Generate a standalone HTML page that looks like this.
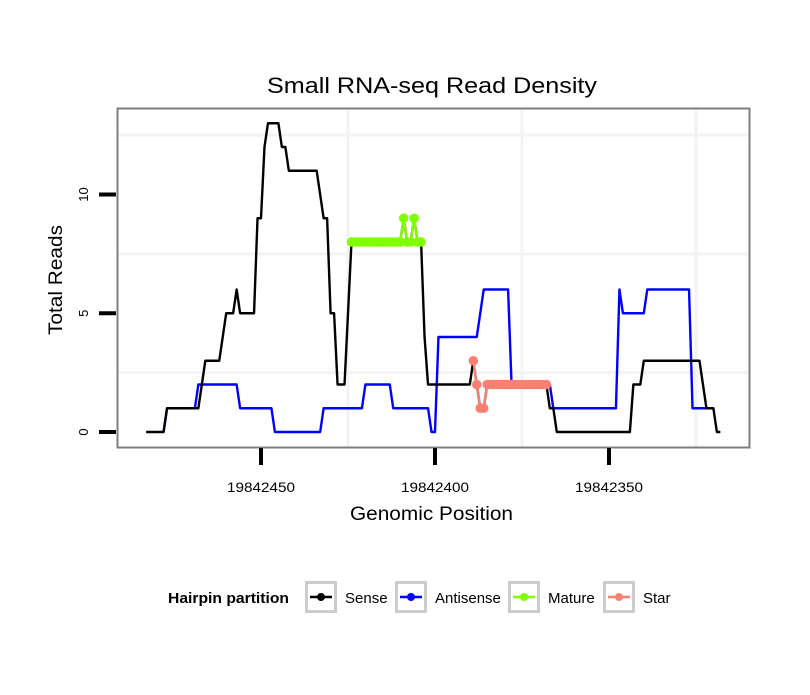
<!DOCTYPE html>
<html><head><meta charset="utf-8"><style>
body{margin:0;background:#fff}
svg text{font-family:"Liberation Sans",sans-serif}
</style></head><body>
<svg id="chart" width="810" height="690" xmlns="http://www.w3.org/2000/svg">
<rect width="810" height="690" fill="#fff"/>
<text x="267" y="93" font-size="22" textLength="330" lengthAdjust="spacingAndGlyphs">Small RNA-seq Read Density</text>
<g id="grid"></g>
<g id="series"></g>
<rect x="117.5" y="108.5" width="632" height="339" fill="none" stroke="#7f7f7f" stroke-width="2"/>
<g id="axes"></g>
<text x="350" y="520" font-size="19" textLength="163" lengthAdjust="spacingAndGlyphs">Genomic Position</text>
<text transform="translate(62,335) rotate(-90)" font-size="19" textLength="110" lengthAdjust="spacingAndGlyphs">Total Reads</text>
<g>
<text x="168" y="603" font-size="15" font-weight="bold" textLength="121" lengthAdjust="spacingAndGlyphs">Hairpin partition</text>
<g id="legend"></g>
</g>
</svg>
<script>
const senseX=[19842483,19842478,19842477,19842468,19842466,19842462,19842460,19842458,19842457,19842456,19842452,19842451,19842450,19842449,19842448,19842445,19842444,19842443,19842442,19842434,19842432,19842431,19842430,19842429,19842428,19842426,19842424,19842410,19842409,19842408,19842407,19842406,19842405,19842404,19842403,19842402,19842390,19842389,19842388,19842387,19842386,19842385,19842368,19842367,19842366,19842365,19842344,19842343,19842341,19842340,19842324,19842322,19842320,19842319,19842318];
const senseY=[0,0,1,1,3,3,5,5,6,5,5,9,9,12,13,13,12,12,11,11,9,9,5,5,2,2,8,8,9,8,8,9,8,8,4,2,2,3,2,1,1,2,2,1,1,0,0,2,2,3,3,1,1,0,0];
const antiX=[19842478,19842477,19842469,19842468,19842457,19842456,19842447,19842446,19842433,19842432,19842421,19842420,19842413,19842412,19842402,19842401,19842400,19842399,19842388,19842386,19842379,19842378,19842367,19842366,19842348,19842347,19842346,19842340,19842339,19842327,19842326,19842322];
const antiY=[0,1,1,2,2,1,1,0,0,1,1,2,2,1,1,0,0,4,4,6,6,2,2,1,1,6,5,5,6,6,1,1];
const matureX=[19842424,19842423,19842422,19842421,19842420,19842419,19842418,19842417,19842416,19842415,19842414,19842413,19842412,19842411,19842410,19842409,19842408,19842407,19842406,19842405,19842404];
const matureY=[8,8,8,8,8,8,8,8,8,8,8,8,8,8,8,9,8,8,9,8,8];
const starX=[19842389,19842388,19842387,19842386,19842385,19842384,19842383,19842382,19842381,19842380,19842379,19842378,19842377,19842376,19842375,19842374,19842373,19842372,19842371,19842370,19842369,19842368];
const starY=[3,2,1,1,2,2,2,2,2,2,2,2,2,2,2,2,2,2,2,2,2,2];
const yTicks=[0,5,10];
const xTicks=[19842450,19842400,19842350];
const xTickLabels=["19842450","19842400","19842350"];
const legendLabels=["Sense","Antisense","Mature","Star"];
const legendColors=["#000000","#0000ff","#7fff00","#fa8072"];

const NS="http://www.w3.org/2000/svg";
const X=p=>261+(19842450-p)*3.48;
const Y=v=>432-v*23.75;
function mk(tag,attrs,parent){const e=document.createElementNS(NS,tag);for(const k in attrs)e.setAttribute(k,attrs[k]);parent.appendChild(e);return e;}
const grid=document.getElementById('grid'),series=document.getElementById('series'),axes=document.getElementById('axes'),legend=document.getElementById('legend');
mk('rect',{x:118,y:109,width:631,height:338,fill:'#fff'},grid);
[2.5,7.5,12.5].forEach(v=>{const l=mk('line',{x1:118,x2:749,y1:Y(v),y2:Y(v),stroke:'#f3f3f3','stroke-width':3},grid);

});
[19842425,19842375,19842325].forEach(p=>{const l=mk('line',{x1:X(p),x2:X(p),y1:109,y2:447,stroke:'#f3f3f3','stroke-width':3},grid);

});
function line(xs,ys,color,name){const pts=xs.map((p,i)=>X(p)+','+Y(ys[i])).join(' ');
const l=mk('polyline',{points:pts,fill:'none',stroke:color,'stroke-width':2.4,'stroke-linejoin':'round'},series);

}
line(antiX,antiY,'#0000ff','antisense-line');
line(senseX,senseY,'#000000','sense-line');
function pts(xs,ys,color,name){line(xs,ys,color,name+'-line');xs.forEach((p,i)=>{const c=mk('circle',{cx:X(p),cy:Y(ys[i]),r:4.8,fill:color},series);

});}
pts(matureX,matureY,'#7fff00','mature');
pts(starX,starY,'#fa8072','star');
yTicks.forEach(v=>{const t=mk('line',{x1:99,x2:116,y1:Y(v),y2:Y(v),stroke:'#000','stroke-width':4},axes);


const tx=mk('text',{transform:`translate(88,${Y(v)}) rotate(-90)`,'font-size':13,'text-anchor':'middle'},axes);tx.textContent=String(v);

});
xTicks.forEach((p,i)=>{const t=mk('line',{x1:X(p),x2:X(p),y1:448,y2:465,stroke:'#000','stroke-width':4},axes);


const tx=mk('text',{x:X(p)-34,y:492,'font-size':14,textLength:68,lengthAdjust:'spacingAndGlyphs'},axes);tx.textContent=xTickLabels[i];

});
const boxX=[305,395,508,603];
legendLabels.forEach((lab,i)=>{const bx=boxX[i];
const g=mk('g',{},legend);


mk('rect',{x:bx+1.5,y:582.5,width:29,height:29,fill:'#fff',stroke:'#cccccc','stroke-width':3},g);
mk('line',{x1:bx+5,x2:bx+27,y1:597,y2:597,stroke:legendColors[i],'stroke-width':2.4},g);
mk('circle',{cx:bx+16,cy:597,r:4,fill:legendColors[i]},g);
const t=mk('text',{x:bx+40,y:603,'font-size':15},g);t.textContent=lab;});
</script>
</body></html>
